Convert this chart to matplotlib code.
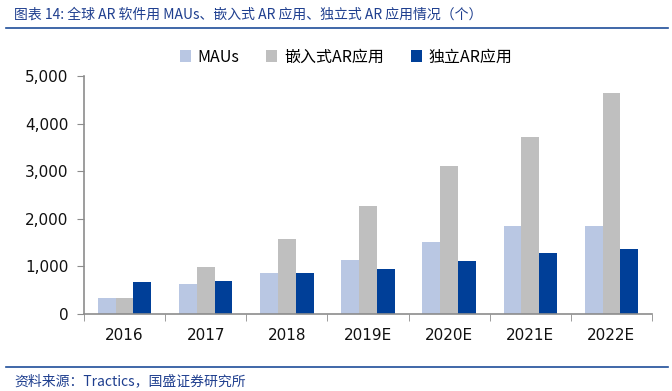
import matplotlib
matplotlib.use("Agg")
import matplotlib.pyplot as plt
import numpy as np
from matplotlib.lines import Line2D

plt.rcParams['font.family'] = ['DejaVu Sans', 'Noto Sans CJK SC']

categories = ["2016", "2017", "2018", "2019E", "2020E", "2021E", "2022E"]
series_names = ["MAUs", "嵌入式AR应用", "独立AR应用"]
maus = [330, 630, 868, 1134, 1519, 1849, 1849]
embedded = [330, 980, 1570, 2269, 3116, 3725, 4636]
standalone = [666, 700, 868, 945, 1120, 1275, 1359]
yticks = [0, 1000, 2000, 3000, 4000, 5000]
title = "图表 14: 全球 AR 软件用 MAUs、嵌入式 AR 应用、独立式 AR 应用情况（个）"
source = "资料来源：Tractics，国盛证券研究所"

colors = ["#B9C7E3", "#BFBFBF", "#003F98"]

W, H = 672, 391
fig = plt.figure(figsize=(W/100, H/100), dpi=100)
ax = fig.add_axes([84/W, 1-314/H, (652-84)/W, (314-76)/H])

x = np.arange(len(categories))
bw = 0.22
for i, (vals, c, name) in enumerate(zip([maus, embedded, standalone], colors, series_names)):
    ax.bar(x + (i-1)*bw, vals, width=bw, color=c, label=name, zorder=2)

ax.set_xlim(-0.5, len(categories)-0.5)
ax.set_ylim(0, 5000)
ax.set_yticks(yticks)
ax.set_yticklabels([f"{v:,}" for v in yticks], fontsize=11, color="#111111")
ax.set_xticks(x)
ax.set_xticklabels(categories, fontsize=11, color="#111111")
ax.tick_params(axis='x', length=0, pad=10)
ax.set_xticks(np.arange(-0.5, len(categories), 1), minor=True)
ax.tick_params(axis='x', which='minor', length=5, color="#8C8C8C", direction='out')
ax.tick_params(axis='y', length=5, color="#8C8C8C", direction='out', pad=6)
for s in ['top', 'right']:
    ax.spines[s].set_visible(False)
for s in ['left', 'bottom']:
    ax.spines[s].set_color("#8C8C8C")
    ax.spines[s].set_linewidth(1.2)

leg = fig.legend(loc='center', bbox_to_anchor=(346/W, 1-57/H), ncol=3, frameon=False,
                 handlelength=0.7, handleheight=0.7, handletextpad=0.4,
                 columnspacing=1.7, prop={'family': ['Noto Sans CJK SC'], 'size': 11.5})

fig.text(14/W, 1-15/H, title, fontsize=10, color="#1F3F8F", style='italic',
         family=['Noto Sans CJK SC', 'DejaVu Sans'], va='center', ha='left')
fig.add_artist(Line2D([6/W, 668/W], [1-28/H, 1-28/H], color="#1F4E99", lw=1.2))
fig.add_artist(Line2D([6/W, 668/W], [1-367/H, 1-367/H], color="#1F4E99", lw=1.2))
fig.text(14/W, 1-381/H, source, fontsize=10, color="#1F3F8F", style='italic',
         family=['Noto Sans CJK SC', 'DejaVu Sans'], va='center', ha='left')

fig.savefig("out.png", dpi=100)
